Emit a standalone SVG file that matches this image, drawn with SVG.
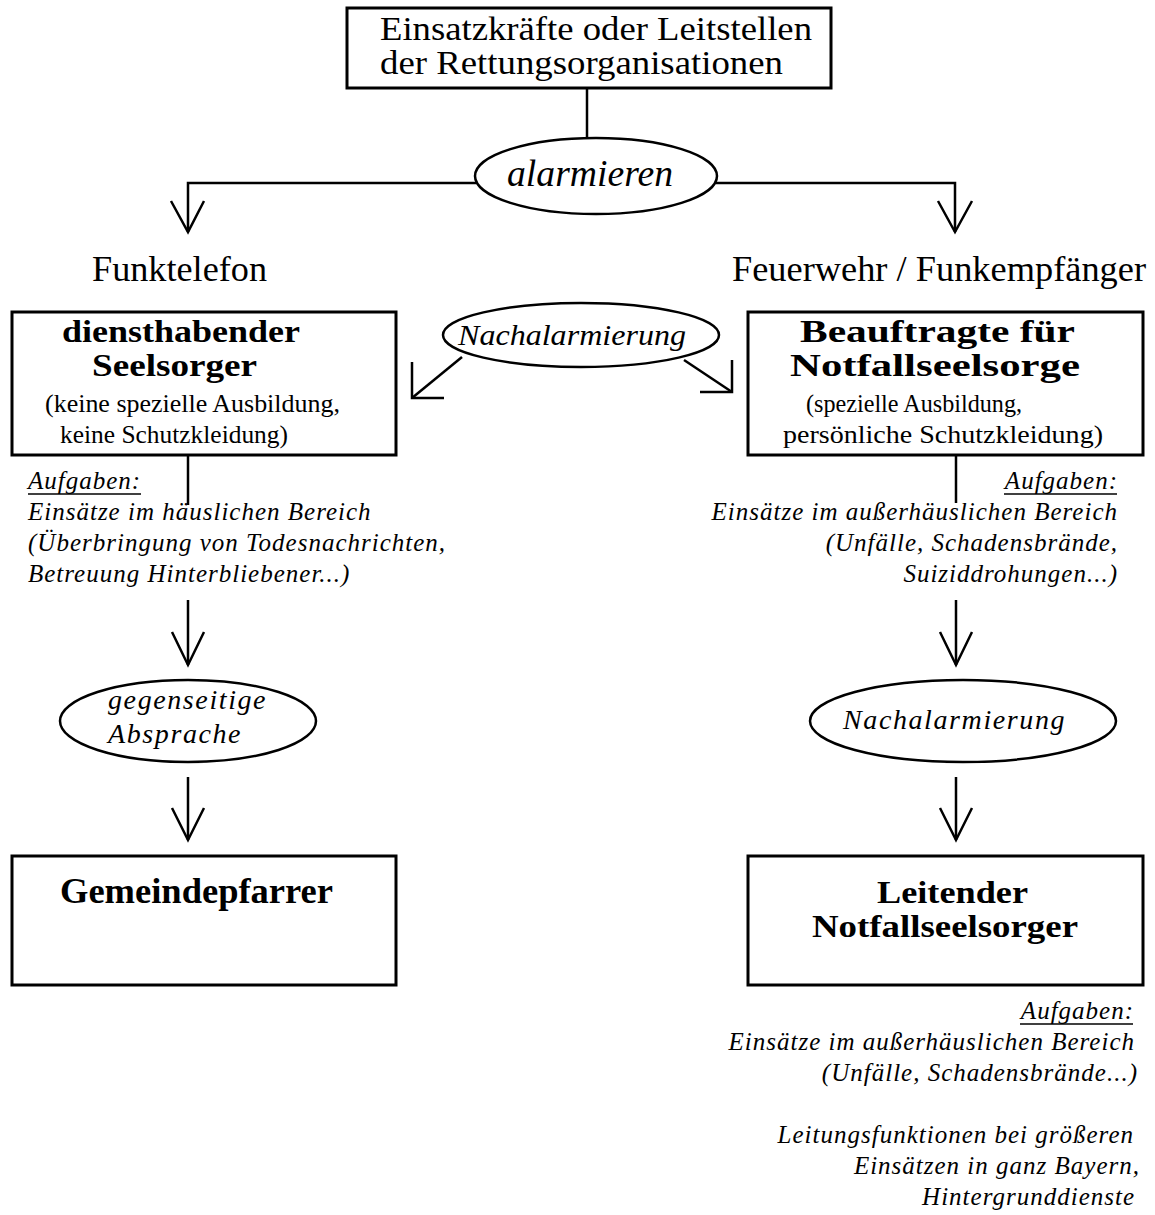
<svg xmlns="http://www.w3.org/2000/svg" width="1155" height="1215" viewBox="0 0 1155 1215" font-family="'Liberation Serif', 'Times New Roman', serif">
<defs>
<style>
.box{fill:#fff;stroke:#000;stroke-width:3}
.ell{fill:#fff;stroke:#000;stroke-width:2.5}
.ln{fill:none;stroke:#000;stroke-width:2.5}
text{font-family:'Liberation Serif','Times New Roman',serif;fill:#000}
.big{font-size:36px}
.top{font-size:33px}
.bold{font-size:35px;font-weight:bold}
.bold2{font-size:32px;font-weight:bold}
.small{font-size:26px}
.it{font-size:25px;font-style:italic;letter-spacing:1px}
.itm{font-size:28px;font-style:italic;letter-spacing:1.6px}
.itl{font-size:30px;font-style:italic}
.ul{stroke:#000;stroke-width:1.5}
</style>
</defs>
<g id="connectors">
<line class="ln" x1="587" y1="88" x2="587" y2="140"/>
<polyline class="ln" points="476,183 188,183 188,232"/>
<polyline class="ln" points="171,201 188,232 204,201"/>
<polyline class="ln" points="716,183 955,183 955,232"/>
<polyline class="ln" points="938,201 955,232 972,201"/>
<line class="ln" x1="462" y1="357" x2="412" y2="398"/>
<polyline class="ln" points="412,362 412,398 444,398"/>
<line class="ln" x1="684" y1="360" x2="732" y2="392"/>
<polyline class="ln" points="700,392 732,392 732,360"/>
<line class="ln" x1="188" y1="455" x2="188" y2="505"/>
<line class="ln" x1="956" y1="455" x2="956" y2="503"/>
<line class="ln" x1="188" y1="600" x2="188" y2="665"/>
<polyline class="ln" points="172,632 188,665 204,632"/>
<line class="ln" x1="188" y1="777" x2="188" y2="840"/>
<polyline class="ln" points="172,808 188,840 204,808"/>
<line class="ln" x1="956" y1="600" x2="956" y2="665"/>
<polyline class="ln" points="940,632 956,665 972,632"/>
<line class="ln" x1="956" y1="777" x2="956" y2="840"/>
<polyline class="ln" points="940,808 956,840 972,808"/>
</g>
<g id="top">
<rect class="box" x="347" y="8" width="484" height="80"/>
<text class="top" x="380" y="40" textLength="432" lengthAdjust="spacingAndGlyphs">Einsatzkräfte oder Leitstellen</text>
<text class="top" x="380" y="74" textLength="403" lengthAdjust="spacingAndGlyphs">der Rettungsorganisationen</text>
</g>
<g id="alarmieren">
<ellipse class="ell" cx="596" cy="176" rx="121" ry="38"/>
<text x="507" y="186" font-size="37" font-style="italic" textLength="166" lengthAdjust="spacingAndGlyphs">alarmieren</text>
</g>
<g id="funktelefon">
<text class="big" x="92" y="281" textLength="175" lengthAdjust="spacingAndGlyphs">Funktelefon</text>
</g>
<g id="feuerwehr">
<text class="big" x="732" y="281" textLength="414" lengthAdjust="spacingAndGlyphs">Feuerwehr / Funkempfänger</text>
</g>
<g id="diensthabender">
<rect class="box" x="12" y="312" width="384" height="143"/>
<text class="bold2" x="62" y="342" textLength="238" lengthAdjust="spacingAndGlyphs">diensthabender</text>
<text class="bold2" x="92" y="376" textLength="165" lengthAdjust="spacingAndGlyphs">Seelsorger</text>
<text class="small" x="45" y="412" textLength="295" lengthAdjust="spacingAndGlyphs">(keine spezielle Ausbildung,</text>
<text class="small" x="60" y="443" textLength="228" lengthAdjust="spacingAndGlyphs">keine Schutzkleidung)</text>
</g>
<g id="nachalarmierung1">
<ellipse class="ell" cx="581" cy="335" rx="138" ry="32"/>
<text class="itl" x="458" y="345" textLength="228" lengthAdjust="spacingAndGlyphs">Nachalarmierung</text>
</g>
<g id="beauftragte">
<rect class="box" x="748" y="312" width="395" height="143"/>
<text class="bold2" x="800" y="342" textLength="275" lengthAdjust="spacingAndGlyphs">Beauftragte für</text>
<text class="bold2" x="790" y="376" textLength="290" lengthAdjust="spacingAndGlyphs">Notfallseelsorge</text>
<text class="small" x="806" y="412" textLength="216" lengthAdjust="spacingAndGlyphs">(spezielle Ausbildung,</text>
<text class="small" x="783" y="443" textLength="320" lengthAdjust="spacingAndGlyphs">persönliche Schutzkleidung)</text>
</g>
<g id="aufgaben-left">
<text class="it" x="28" y="489">Aufgaben:</text>
<line class="ul" x1="28" y1="494" x2="141" y2="494"/>
<text class="it" x="28" y="520">Einsätze im häuslichen Bereich</text>
<text class="it" x="28" y="551">(Überbringung von Todesnachrichten,</text>
<text class="it" x="28" y="582">Betreuung Hinterbliebener...)</text>
</g>
<g id="aufgaben-right">
<text class="it" x="1118" y="489" text-anchor="end">Aufgaben:</text>
<line class="ul" x1="1004" y1="494" x2="1117" y2="494"/>
<text class="it" x="1118" y="520" text-anchor="end">Einsätze im außerhäuslichen Bereich</text>
<text class="it" x="1118" y="551" text-anchor="end">(Unfälle, Schadensbrände,</text>
<text class="it" x="1118" y="582" text-anchor="end">Suiziddrohungen...)</text>
</g>
<g id="absprache">
<ellipse class="ell" cx="188" cy="721" rx="128" ry="41"/>
<text class="itm" x="108" y="709">gegenseitige</text>
<text class="itm" x="108" y="743">Absprache</text>
</g>
<g id="nachalarmierung2">
<ellipse class="ell" cx="963" cy="721" rx="153" ry="41"/>
<text class="itm" x="843" y="729">Nachalarmierung</text>
</g>
<g id="gemeindepfarrer">
<rect class="box" x="12" y="856" width="384" height="129"/>
<text class="bold" x="60" y="903" textLength="273" lengthAdjust="spacingAndGlyphs">Gemeindepfarrer</text>
</g>
<g id="leitender">
<rect class="box" x="748" y="856" width="395" height="129"/>
<text class="bold2" x="877" y="903" textLength="151" lengthAdjust="spacingAndGlyphs">Leitender</text>
<text class="bold2" x="812" y="937" textLength="266" lengthAdjust="spacingAndGlyphs">Notfallseelsorger</text>
</g>
<g id="aufgaben-bottom">
<text class="it" x="1134" y="1019" text-anchor="end">Aufgaben:</text>
<line class="ul" x1="1020" y1="1024" x2="1133" y2="1024"/>
<text class="it" x="1135" y="1050" text-anchor="end">Einsätze im außerhäuslichen Bereich</text>
<text class="it" x="1138" y="1081" text-anchor="end">(Unfälle, Schadensbrände...)</text>
<text class="it" x="1134" y="1143" text-anchor="end">Leitungsfunktionen bei größeren</text>
<text class="it" x="1140" y="1174" text-anchor="end">Einsätzen in ganz Bayern,</text>
<text class="it" x="1135" y="1205" text-anchor="end">Hintergrunddienste</text>
</g>
</svg>
